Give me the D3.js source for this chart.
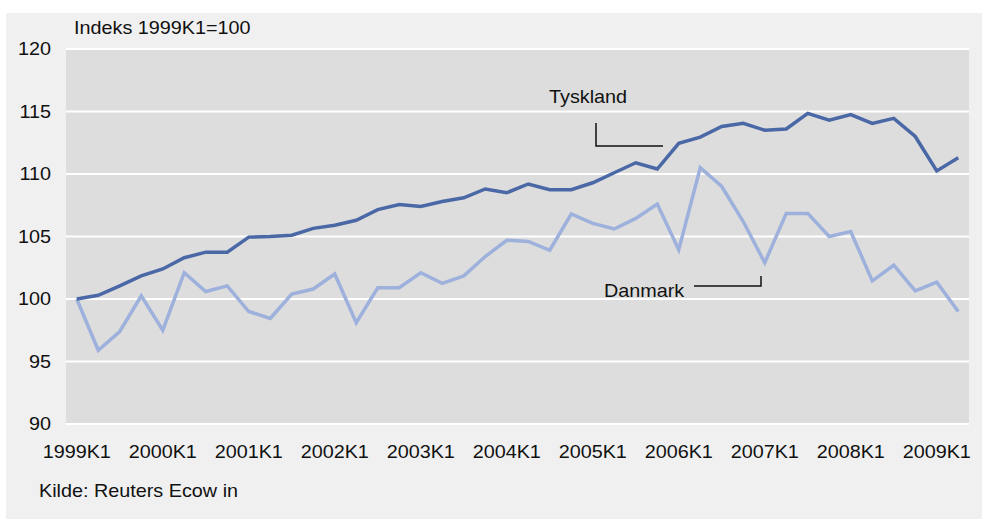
<!DOCTYPE html>
<html><head><meta charset="utf-8">
<script src="https://cdn.jsdelivr.net/npm/d3@7"></script>
<style>
html,body{margin:0;padding:0;background:#fff;}
svg text{font-family:"Liberation Sans",Arial,sans-serif;fill:#111;font-size:18px;}
</style></head>
<body><svg id="c" width="982" height="519"></svg>
<script>
const years = [1999,2000,2001,2002,2003,2004,2005,2006,2007,2008,2009];
const quarters = [];
years.forEach(y => [1,2,3,4].forEach(q => { if (!(y===2009 && q>2)) quarters.push(y+"K"+q); }));
const tickLabels = years.map(y => y+"K1");
const yTicks = [90,95,100,105,110,115,120];
const tyskland = [100,100.3,101.05,101.85,102.4,103.3,103.75,103.75,104.95,105.0,105.1,105.65,105.9,106.3,107.15,107.55,107.4,107.8,108.1,108.8,108.5,109.2,108.75,108.75,109.3,110.1,110.9,110.4,112.45,112.95,113.8,114.05,113.5,113.6,114.85,114.3,114.75,114.05,114.45,113.0,110.25,111.3];
const danmark = [100,95.9,97.4,100.25,97.5,102.1,100.6,101.05,99.0,98.45,100.4,100.8,102.0,98.1,100.9,100.9,102.1,101.25,101.85,103.4,104.7,104.6,103.9,106.8,106.05,105.6,106.45,107.6,103.95,110.5,109.0,106.2,102.9,106.85,106.85,105.0,105.4,101.45,102.7,100.65,101.35,99.0];

const svg = d3.select("#c");
const L = 66, R = 969, T = 49, B = 424;
const SX = 1.1;

svg.append("rect").attr("x",6).attr("y",13).attr("width",976).attr("height",506).attr("fill","#f0f0f0");
svg.append("rect").attr("x",L).attr("y",T).attr("width",R-L).attr("height",B-T).attr("fill","#dddddd");

const x = d3.scaleBand().domain(quarters).range([L,R]);
const xc = d => x(d) + x.bandwidth()/2;
const y = d3.scaleLinear().domain([90,120]).range([B,T]);

function label(g, tx, ty, txt, anchor, dy) {
  return g.append("text")
    .attr("transform", `translate(${tx},${ty}) scale(${SX},1)`)
    .attr("text-anchor", anchor || "start")
    .attr("dy", dy || null)
    .text(txt);
}

// gridlines
svg.append("g").selectAll("line").data(yTicks).join("line")
  .attr("x1",L).attr("x2",R).attr("y1",d=>y(d)).attr("y2",d=>y(d))
  .attr("stroke","#ffffff").attr("stroke-width",2);

// y axis labels
const gy = svg.append("g");
yTicks.forEach(t => label(gy, 51, y(t), t, "end", "0.35em"));

// x axis labels
const gx = svg.append("g");
tickLabels.forEach(t => label(gx, xc(t), 458, t, "middle"));

const line = d3.line().x((d,i)=>xc(quarters[i])).y(d=>y(d));
svg.append("path").datum(danmark).attr("d",line).attr("fill","none")
  .attr("stroke","#9db1dc").attr("stroke-width",3.5);
svg.append("path").datum(tyskland).attr("d",line).attr("fill","none")
  .attr("stroke","#4a68a6").attr("stroke-width",3.5);

// title & source
label(svg, 74, 34, "Indeks 1999K1=100");
label(svg, 39, 497, "Kilde: Reuters Ecow in");

// annotations
label(svg, 549, 103, "Tyskland");
svg.append("path").attr("d","M596,123V146H663").attr("fill","none").attr("stroke","#111").attr("stroke-width",1.5);
label(svg, 604, 297, "Danmark");
svg.append("path").attr("d","M694,286H761V276").attr("fill","none").attr("stroke","#111").attr("stroke-width",1.5);
</script></body></html>
